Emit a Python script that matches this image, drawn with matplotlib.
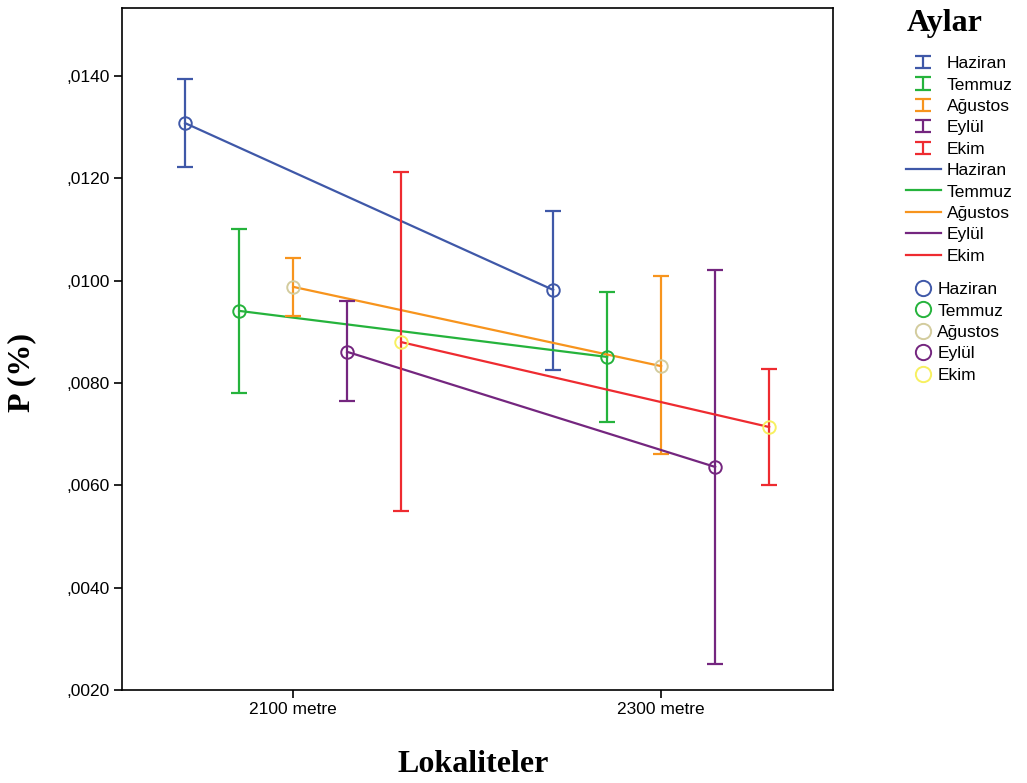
import matplotlib
matplotlib.use("Agg")
import matplotlib.pyplot as plt
from matplotlib.lines import Line2D
from matplotlib.ticker import FuncFormatter
from matplotlib.legend_handler import HandlerErrorbar
import numpy as np

# veriler
lokaliteler = ["2100 metre", "2300 metre"]
aylar = ["Haziran", "Temmuz", "Ağustos", "Eylül", "Ekim"]
ortalama = {
    "Haziran": [0.01308, 0.00982],
    "Temmuz": [0.00941, 0.00851],
    "Ağustos": [0.00988, 0.00833],
    "Eylül": [0.00861, 0.00636],
    "Ekim": [0.00880, 0.00714],
}
ust = {
    "Haziran": [0.01394, 0.01136],
    "Temmuz": [0.01101, 0.00978],
    "Ağustos": [0.01044, 0.01009],
    "Eylül": [0.00960, 0.01021],
    "Ekim": [0.01212, 0.00827],
}
alt = {
    "Haziran": [0.01222, 0.00825],
    "Temmuz": [0.00780, 0.00724],
    "Ağustos": [0.00931, 0.00661],
    "Eylül": [0.00765, 0.00251],
    "Ekim": [0.00550, 0.00600],
}

renk = {"Haziran": "#3F58A8", "Temmuz": "#25B33C", "Ağustos": "#F7941D",
        "Eylül": "#74267F", "Ekim": "#EE2B30"}
isaret_renk = {"Haziran": "#3F58A8", "Temmuz": "#25B33C", "Ağustos": "#D3CC9E",
               "Eylül": "#74267F", "Ekim": "#F7F060"}
kayma = {"Haziran": -0.2935, "Temmuz": -0.1467, "Ağustos": 0.0,
         "Eylül": 0.1467, "Ekim": 0.2935}

fig = plt.figure(figsize=(10.27, 7.83), dpi=100)
ax = fig.add_axes([122 / 1027, 1 - 690 / 783, (833 - 122) / 1027, (690 - 8) / 783])

x = np.arange(len(lokaliteler))
eb_handles = []
line_handles = []
mark_handles = []
for ay in aylar:
    xs = x + kayma[ay]
    m = np.array(ortalama[ay])
    yerr = [m - np.array(alt[ay]), np.array(ust[ay]) - m]
    eb = ax.errorbar(xs, m, yerr=yerr, fmt="none", ecolor=renk[ay],
                     elinewidth=1.6, capsize=5.5, capthick=1.6, label=ay)
    eb_handles.append(eb)
    ln, = ax.plot(xs, m, color=renk[ay], lw=1.6, label=ay)
    line_handles.append(ln)
    ax.plot(xs, m, "o", ms=9, mfc="none", mec=isaret_renk[ay], mew=1.4, zorder=5)
    mark_handles.append(Line2D([], [], ls="none", marker="o", ms=11, mfc="none",
                               mec=isaret_renk[ay], mew=1.4))

ax.set_xlim(-0.465, 1.467)
ax.set_ylim(0.0020, 0.01533)
ax.set_xticks(x)
ax.set_xticklabels(lokaliteler)
ax.set_yticks(np.arange(0.002, 0.0141, 0.002))
ax.yaxis.set_major_formatter(FuncFormatter(lambda v, p: ("%.4f" % v)[1:].replace(".", ",")))
ax.tick_params(direction="out", length=6, width=1.2, labelsize=12.5, pad=3)
for lab in ax.get_xticklabels() + ax.get_yticklabels():
    lab.set_family("Liberation Sans")
for s in ax.spines.values():
    s.set_linewidth(1.2)

ax.set_xlabel("Lokaliteler", family="Liberation Serif", fontweight="bold",
              fontsize=23, va="center")
ax.set_ylabel("P (%)", family="Liberation Serif", fontweight="bold",
              fontsize=23, va="center")
ax.xaxis.set_label_coords((473 - 122) / 711, (690 - 765) / 682)
ax.yaxis.set_label_coords((22 - 122) / 711, (690 - 372) / 682)

fig.text(945 / 1027, 1 - 23 / 783, "Aylar", family="Liberation Serif",
         fontweight="bold", fontsize=23, ha="center", va="center")

leg_font = {"family": "Liberation Sans", "size": 12.5}
leg1 = fig.legend(eb_handles + line_handles, aylar * 2,
                  loc="upper left", bbox_to_anchor=(906 / 1027, 1 - 56 / 783),
                  frameon=False, prop=leg_font, borderpad=0, borderaxespad=0,
                  handlelength=2.0, handletextpad=0.35, labelspacing=0.36,
                  handler_map={type(eb_handles[0]): HandlerErrorbar(yerr_size=0.35)})

leg2 = fig.legend(mark_handles, aylar,
                  loc="upper left", bbox_to_anchor=(914 / 1027, 1 - 282 / 783),
                  frameon=False, prop=leg_font, borderpad=0, borderaxespad=0,
                  handlelength=1.0, handletextpad=0.35, labelspacing=0.36)

fig.savefig("out.png", dpi=100)
